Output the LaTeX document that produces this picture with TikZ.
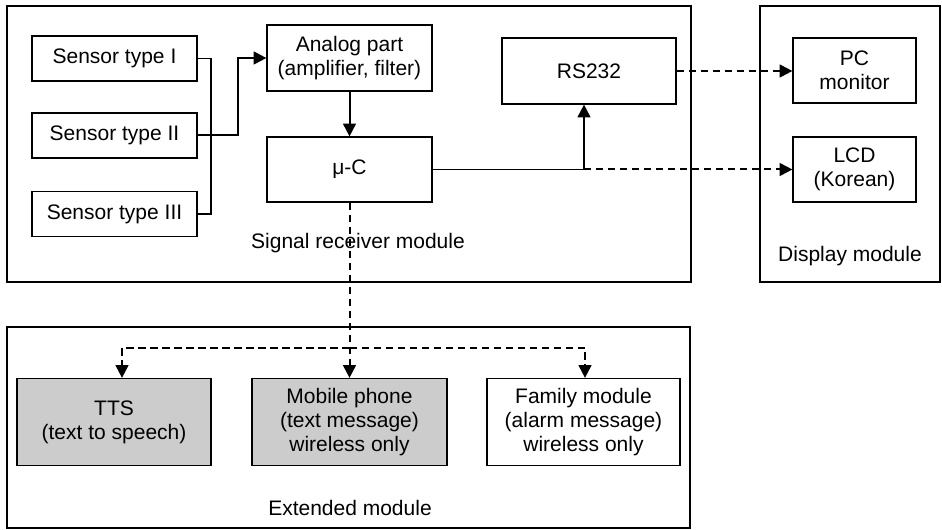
\documentclass[tikz,border=0pt]{standalone}
\usepackage{fontspec}
\setmainfont{Liberation Sans}
\usepackage{tikz}
\usetikzlibrary{arrows.meta,calc,positioning}
\definecolor{ink}{HTML}{000000}
\definecolor{paper}{HTML}{FFFFFF}
\definecolor{shade}{HTML}{CCCCCC}
\tikzset{
  flowarr/.style={-{Triangle[length=9.5pt,width=9.5pt]},line width=1.5pt,color=ink},
  dasharr/.style={-{Triangle[length=9.5pt,width=9.5pt]},line width=1.5pt,color=ink,dash pattern=on 5.5pt off 3.5pt},
  wire/.style={line width=1pt,color=ink},
  frame/.style={draw=ink,fill=paper,line width=0.9pt,inner sep=0pt},
  unitbox/.style={draw=ink,fill=paper,line width=0.9pt,align=center,inner sep=2pt},
  greybox/.style={unitbox,fill=shade},
  caption/.style={inner sep=0pt,align=center}
}

\begin{document}
\begin{tikzpicture}[x=0.75pt,y=-0.75pt,font=\fontsize{15.75}{18}\selectfont]
  \useasboundingbox (0,0) rectangle (942,530);

  % module frames
  \node[frame,minimum width=513pt,minimum height=207pt] (recv) at (349,144) {};
  \node[frame,minimum width=135pt,minimum height=207pt] (disp) at (850,144) {};
  \node[frame,minimum width=512.25pt,minimum height=150.75pt] (ext) at (348.5,427.5) {};
  \node[caption] (recvlbl) at (358,243) {Signal receiver module};
  \node[caption] (displbl) at (850,256) {Display module};
  \node[caption] (extlbl) at (350,508) {Extended module};

  % signal receiver
  \node[unitbox,minimum width=123.75pt,minimum height=33.75pt] (sensI) at (114.5,58.5) {Sensor type I};
  \node[unitbox,minimum width=123.75pt,minimum height=33.75pt] (sensII) at (114.5,135.5) {Sensor type II};
  \node[unitbox,minimum width=123.75pt,minimum height=33.75pt] (sensIII) at (114.5,214) {Sensor type III};
  \node[unitbox,minimum width=123.75pt,minimum height=49.5pt] (analog) at (349.5,58) {Analog part\\(amplifier, filter)};
  \node[unitbox,minimum width=123.75pt,minimum height=48.75pt] (muc) at (349.5,169.5) {μ-C};
  \node[unitbox,minimum width=130.5pt,minimum height=49.5pt] (rs232) at (589,71) {RS232};

  % display
  \node[unitbox,minimum width=92.25pt,minimum height=48.75pt] (pc) at (854.5,70.5) {PC\\monitor};
  \node[unitbox,minimum width=92.25pt,minimum height=48.75pt] (lcd) at (854.5,169.5) {LCD\\(Korean)};

  % extended
  \node[greybox,minimum width=145.5pt,minimum height=65.25pt] (tts) at (114,422) {TTS\\(text to speech)};
  \node[greybox,minimum width=146.25pt,minimum height=65.25pt] (mobile) at (349.5,422) {Mobile phone\\(text message)\\wireless only};
  \node[unitbox,minimum width=144.75pt,minimum height=65.25pt] (family) at (583.5,422) {Family module\\(alarm message)\\wireless only};

  \coordinate (bus) at (211,0);
  \coordinate (join) at (238,0);
  \coordinate (tap) at (584,169.5);
  \coordinate (split) at (349.5,348);
  \coordinate (ttsin) at (122,348);
  \coordinate (famin) at (585,348);

  \draw[wire] (sensI.east) -- (sensI.east -| bus) -- (sensIII.east -| bus) -- (sensIII.east);
  \draw[flowarr] (sensII.east) -- (sensII.east -| join) |- (analog.west);
  \draw[flowarr] (analog.south) -- (muc.north);
  \draw[wire] (muc.east) -- (tap);
  \draw[flowarr] (tap) -- (tap |- rs232.south);
  \draw[dasharr] (tap) -- (lcd.west);
  \draw[dasharr] (rs232.east) -- (rs232.east -| pc.west);
  \draw[dasharr] (muc.south) -- (split) -- (mobile.north);
  \draw[dasharr] (split) -- (ttsin) -- (ttsin |- tts.north);
  \draw[dasharr] (split) -- (famin) -- (famin |- family.north);
\end{tikzpicture}
\end{document}
